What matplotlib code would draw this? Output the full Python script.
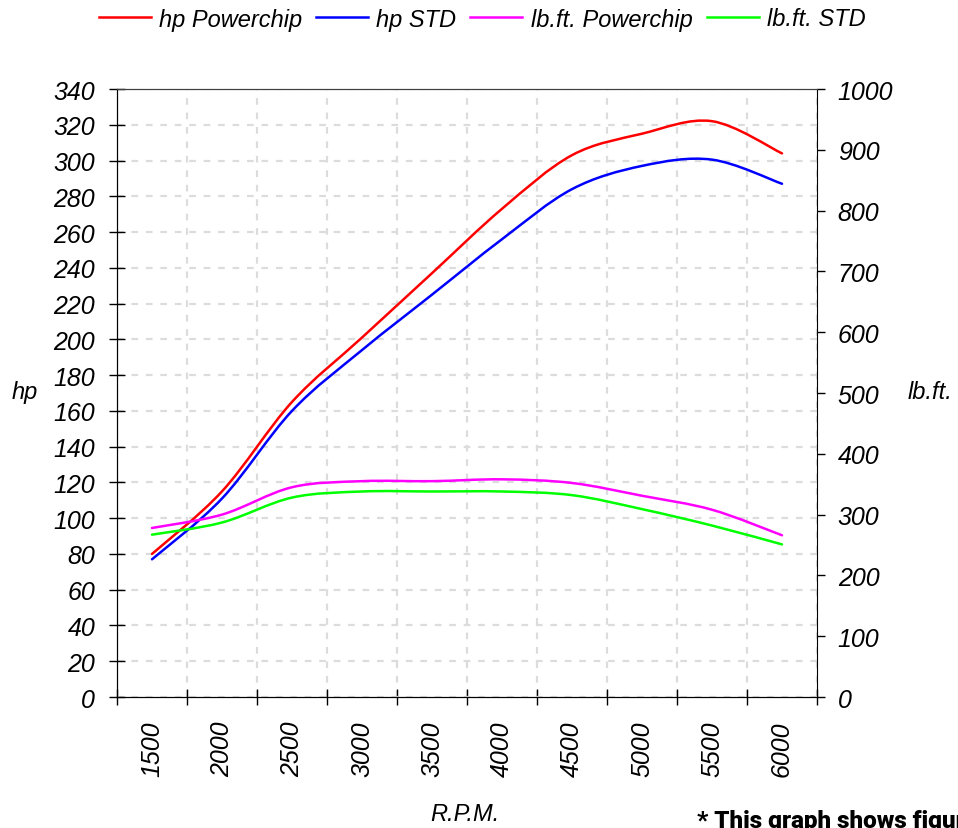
import matplotlib
matplotlib.use("Agg")
import numpy as np
import matplotlib.pyplot as plt
from matplotlib.path import Path
from matplotlib.patches import PathPatch
from matplotlib.lines import Line2D

plt.rcParams['font.family'] = ['Liberation Sans', 'DejaVu Sans']
plt.rcParams['font.style'] = 'italic'

# values (500 rpm steps)
rpm = [1500, 2000, 2500, 3000, 3500, 4000, 4500, 5000, 5500, 6000]
hp_powerchip = [80, 115, 165, 201, 237, 273, 303, 315, 322, 304]
hp_std = [77, 111, 160, 194, 225, 256, 284, 297, 300.5, 287]
lbft_powerchip = [278, 300, 345, 355, 355, 358, 352, 331, 308, 266]
lbft_std = [267, 287, 328, 338, 338, 338, 332, 309, 282, 251]

hp_ticks = list(range(0, 341, 20))
lbft_ticks = list(range(0, 1001, 100))


def smooth_path(x, y):
    # Excel style smoothed line: cubic bezier segments through the points
    x = np.asarray(x, float)
    y = np.asarray(y, float)
    px = np.concatenate([[x[0]], x, [x[-1]]])
    py = np.concatenate([[y[0]], y, [y[-1]]])
    verts = [(x[0], y[0])]
    codes = [Path.MOVETO]
    for i in range(len(x) - 1):
        c1 = (px[i + 1] + (px[i + 2] - px[i]) / 6, py[i + 1] + (py[i + 2] - py[i]) / 6)
        c2 = (px[i + 2] - (px[i + 3] - px[i + 1]) / 6, py[i + 2] - (py[i + 3] - py[i + 1]) / 6)
        verts += [c1, c2, (x[i + 1], y[i + 1])]
        codes += [Path.CURVE4] * 3
    return Path(verts, codes)


fig = plt.figure(figsize=(9.58, 8.29), dpi=100)
ax = fig.add_axes([117 / 958, 1 - 698 / 829, 700 / 958, 608 / 829])
ax2 = ax.twinx()

x = np.arange(len(rpm))
LineWidth = 1.8

series = [
    (ax, hp_powerchip, '#ff0000', 'hp Powerchip'),
    (ax, hp_std, '#0000ff', 'hp STD'),
    (ax2, lbft_powerchip, '#ff00ff', 'lb.ft. Powerchip'),
    (ax2, lbft_std, '#00ff00', 'lb.ft. STD'),
]
handles = []
for a, vals, col, name in series:
    a.add_patch(PathPatch(smooth_path(x, vals), fill=False, edgecolor=col, lw=LineWidth,
                          capstyle='round', joinstyle='round'))
    handles.append(Line2D([], [], color=col, lw=LineWidth, label=name))

ax.set_xlim(-0.5, len(rpm) - 0.5)
ax.set_ylim(0, 340)
ax2.set_ylim(0, 1000)

ax.set_xticks(x)
ax.set_xticklabels([str(r) for r in rpm], rotation=90, fontsize=18)
ax.set_xticks(np.arange(-0.5, len(rpm)), minor=True)
ax.tick_params(axis='x', which='major', length=0, pad=17)
ax.tick_params(axis='x', which='minor', direction='inout', length=11.5, width=1)

ax.set_yticks(hp_ticks)
ax.tick_params(axis='y', direction='inout', length=11.5, width=1, pad=10, labelsize=18)
ax2.set_yticks(lbft_ticks)
ax2.tick_params(axis='y', direction='out', length=6, width=1, pad=9, labelsize=18)

GridStyle = dict(color='#dcdcdc', lw=1.6, linestyle=(0, (3, 3.5)))
ax.grid(which='minor', axis='x', **GridStyle)
ax.grid(which='major', axis='y', **GridStyle)
ax.set_axisbelow(True)

for a in (ax, ax2):
    a.spines['top'].set_color('#404040')
    a.spines['left'].set_color('black')
    a.spines['bottom'].set_color('black')
    a.spines['right'].set_color('black')
ax.spines['right'].set_visible(False)

fig.text(25 / 958, 1 - 393 / 829, 'hp', ha='center', va='center', fontsize=17)
fig.text(930 / 958, 1 - 393 / 829, 'lb.ft.', ha='center', va='center', fontsize=17)
fig.text(465 / 958, 1 - 815 / 829, 'R.P.M.', ha='center', va='center', fontsize=17)

fig.legend(handles=handles, loc='center', bbox_to_anchor=(482 / 958, 1 - 20 / 829), ncol=4,
           frameon=False, fontsize=17, handlelength=2.2, handletextpad=0.35, columnspacing=0.6)

fig.text(697 / 958, 1 - 810 / 829, '* This graph shows figures', fontsize=17.5,
         fontweight='heavy', style='normal', family=['Roboto', 'DejaVu Sans'], va='top')

fig.savefig('out.png', dpi=100)
